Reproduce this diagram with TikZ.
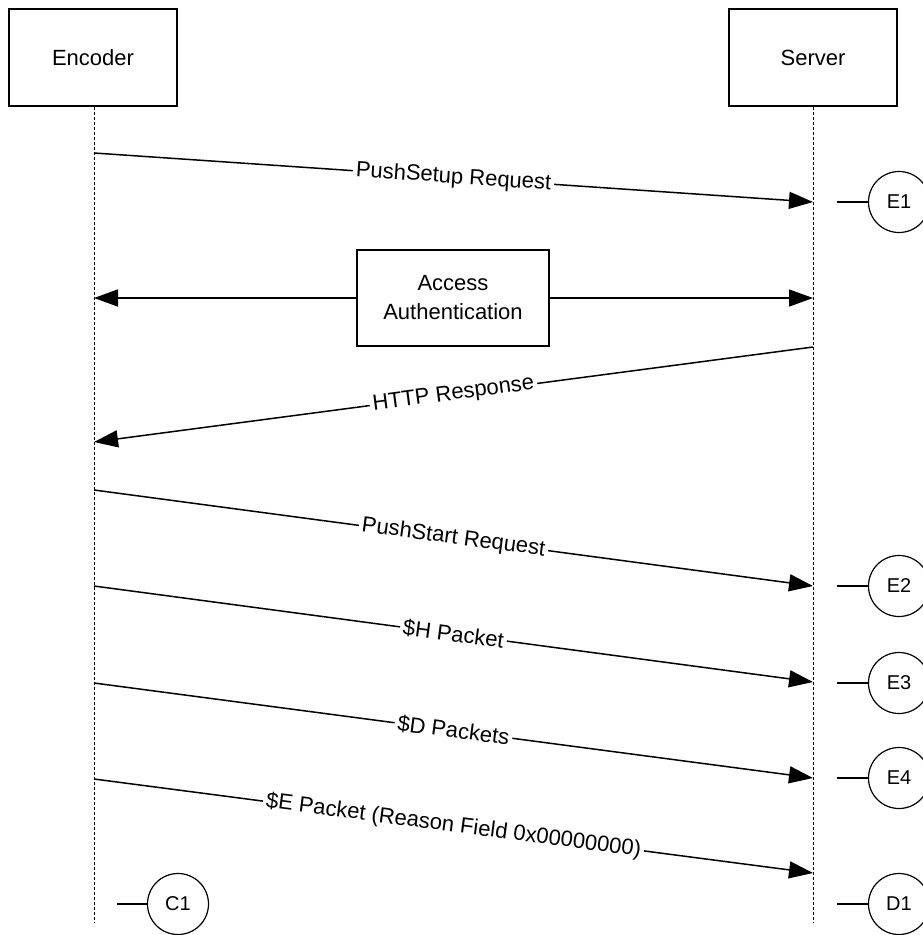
\documentclass[tikz,border=0pt]{standalone}
\usepackage{fontspec}
\setmainfont{Liberation Sans}
\usetikzlibrary{arrows.meta}
\begin{document}
\begin{tikzpicture}[x=1pt,y=-1pt,
  font=\fontsize{22}{29}\selectfont,
  actor/.style={draw, line width=1.3pt, minimum width=168pt, minimum height=97pt, inner sep=0pt},
  life/.style={line width=1pt, dash pattern=on 3pt off 2pt},
  msg/.style={line width=1.5pt, -{Triangle[length=24pt,width=17pt]}},
  lbl/.style={fill=white, inner sep=3pt, sloped, pos=0.5},
  tag/.style={draw, circle, line width=1.2pt, minimum size=61pt, inner sep=0pt, font=\fontsize{20}{24}\selectfont},
  stub/.style={line width=1.2pt}]
\useasboundingbox (0,0) rectangle (922,935);

% actors
\node[actor] (enc) at (93,57.5) {Encoder};
\node[actor] (srv) at (813,57.5) {Server};

% lifelines
\coordinate (encEnd) at (94,922);
\coordinate (srvEnd) at (813,922);
\draw[life] (enc.south -| encEnd) -- (encEnd);
\draw[life] (srv.south) -- (srvEnd);

% message end points
\coordinate (m1s) at (94,153);  \coordinate (m1e) at (813,202);
\coordinate (aL) at (94,298);   \coordinate (aR) at (813,298);
\coordinate (m2s) at (813,347); \coordinate (m2e) at (94,442);
\coordinate (m3s) at (94,490);  \coordinate (m3e) at (813,586);
\coordinate (m4s) at (94,586);  \coordinate (m4e) at (813,682);
\coordinate (m5s) at (94,683);  \coordinate (m5e) at (813,778);
\coordinate (m6s) at (94,779);  \coordinate (m6e) at (813,873);

% messages
\draw[msg] (m1s) -- node[lbl] {PushSetup Request} (m1e);

\node[draw, line width=1.3pt, minimum width=192pt, minimum height=96pt, align=center, inner sep=0pt] (auth) at (453,298) {Access\\Authentication};
\draw[msg] (auth.west) -- (aL);
\draw[msg] (auth.east) -- (aR);

\draw[msg] (m2s) -- node[lbl] {HTTP Response} (m2e);
\draw[msg] (m3s) -- node[lbl] {PushStart Request} (m3e);
\draw[msg] (m4s) -- node[lbl] {\$H Packet} (m4e);
\draw[msg] (m5s) -- node[lbl] {\$D Packets} (m5e);
\draw[msg] (m6s) -- node[lbl] {\$E Packet (Reason Field 0x00000000)} (m6e);

% tags
\node[tag] (E1) at (899,202) {E1};
\node[tag] (E2) at (899,586) {E2};
\node[tag] (E3) at (899,683) {E3};
\node[tag] (E4) at (899,778) {E4};
\node[tag] (D1) at (899,904) {D1};
\node[tag] (C1) at (178,904) {C1};

\coordinate (s1) at (837,202);
\coordinate (s2) at (837,586);
\coordinate (s3) at (837,683);
\coordinate (s4) at (837,778);
\coordinate (s5) at (837,904);
\coordinate (s6) at (117,904);
\draw[stub] (s1) -- (E1.west);
\draw[stub] (s2) -- (E2.west);
\draw[stub] (s3) -- (E3.west);
\draw[stub] (s4) -- (E4.west);
\draw[stub] (s5) -- (D1.west);
\draw[stub] (s6) -- (C1.west);
\end{tikzpicture}
\end{document}
